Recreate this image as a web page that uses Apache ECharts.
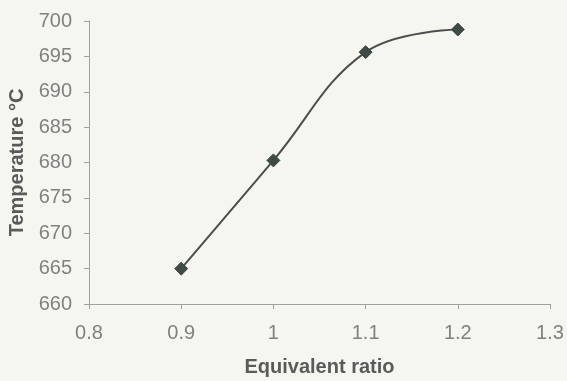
<!DOCTYPE html>
<html>
<head>
<meta charset="utf-8">
<script src="https://cdn.jsdelivr.net/npm/echarts@6/dist/echarts.min.js"></script>
<style>
  html, body { margin: 0; padding: 0; background: #f6f6f1; }
  #chart { width: 567px; height: 381px; }
</style>
</head>
<body>
<div id="chart"></div>
<script>
// equivalent ratio vs temperature
const ratios = [0.9, 1.0, 1.1, 1.2];
const temps = [665, 680.3, 695.6, 698.8];

const chart = echarts.init(document.getElementById("chart"), null, { renderer: "canvas" });

const labelStyle = { color: "#808080", fontSize: 20, fontFamily: "Liberation Sans, Arial, sans-serif" };
const titleStyle = { color: "#5a5a5a", fontSize: 20, fontWeight: "bold", fontFamily: "Liberation Sans, Arial, sans-serif" };

chart.setOption({
  backgroundColor: "#f6f6f1",
  animation: false,
  grid: { left: 89, right: 17, top: 21, bottom: 77, containLabel: false, outerBoundsMode: "none" },
  xAxis: {
    type: "value",
    min: 0.8,
    max: 1.3,
    interval: 0.1,
    name: "Equivalent ratio",
    nameLocation: "middle",
    nameGap: 53,
    nameTextStyle: titleStyle,
    axisLine: { show: true, lineStyle: { color: "#a0a0a0", width: 1 } },
    axisTick: { show: true, length: 5, lineStyle: { color: "#a0a0a0" } },
    axisLabel: Object.assign({ margin: 19 }, labelStyle),
    splitLine: { show: false }
  },
  yAxis: {
    type: "value",
    min: 660,
    max: 700,
    interval: 5,
    name: "Temperature °C",
    nameLocation: "middle",
    nameGap: 59,
    nameTextStyle: titleStyle,
    axisLine: { show: true, lineStyle: { color: "#a0a0a0", width: 1 } },
    axisTick: { show: true, length: 5, lineStyle: { color: "#a0a0a0" } },
    axisLabel: Object.assign({ margin: 17 }, labelStyle),
    splitLine: { show: false }
  },
  series: [{
    type: "line",
    data: ratios.map((r, i) => [r, temps[i]]),
    smooth: 0.4,
    symbol: "diamond",
    symbolSize: 13,
    itemStyle: { color: "#3e4a43", borderColor: "#3e4a43" },
    lineStyle: { color: "#4d4d4d", width: 2 }
  }]
});
</script>
</body>
</html>
